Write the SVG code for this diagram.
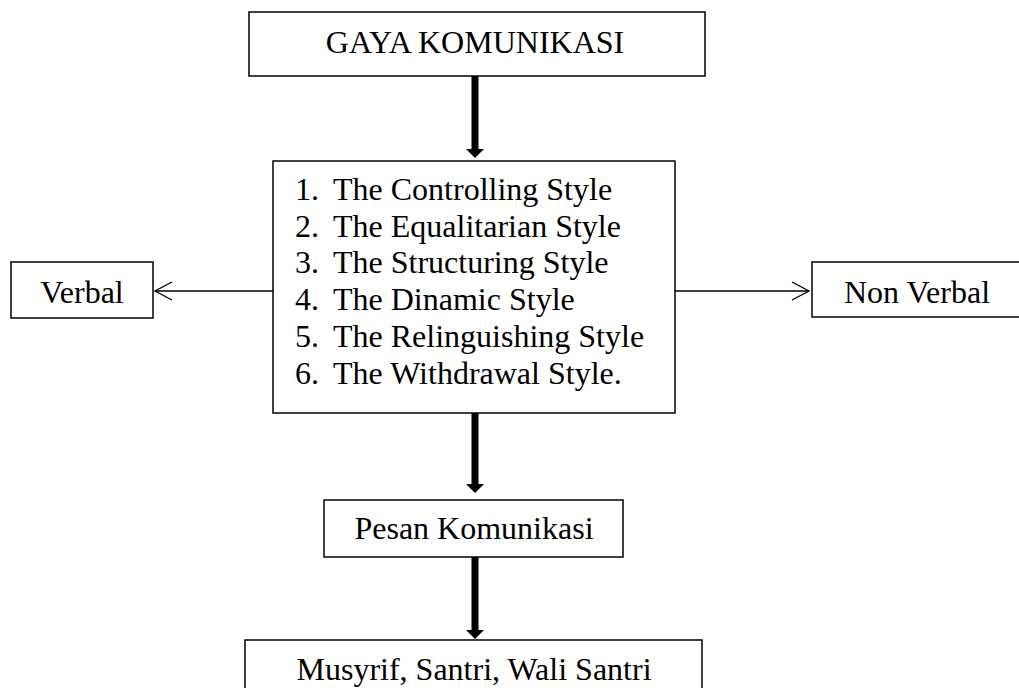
<svg xmlns="http://www.w3.org/2000/svg" width="1019" height="688" viewBox="0 0 1019 688">
<style>
.box{fill:#fff;stroke:#000;stroke-width:1.5}
.t{font-family:"Liberation Serif","Times New Roman",serif;font-size:32px;fill:#000}
.c{text-anchor:middle}
.thick{stroke:#000;stroke-width:7;fill:none}
.thin{stroke:#000;stroke-width:1.3;fill:none}
</style>
<defs>
<marker id="head" viewBox="0 0 9 18" refX="0" refY="9" markerWidth="9" markerHeight="18" markerUnits="userSpaceOnUse" orient="auto">
<path d="M0,0 L9,9 L0,18 Z" fill="#000"/>
</marker>
<marker id="open" viewBox="0 0 20 20" refX="18" refY="10" markerWidth="20" markerHeight="20" markerUnits="userSpaceOnUse" orient="auto">
<path d="M1,1 L18,10 L1,19" fill="none" stroke="#000" stroke-width="1.3"/>
</marker>
</defs>
<g id="connectors">
<line class="thick" x1="475" y1="76" x2="475" y2="149" marker-end="url(#head)"/>
<line class="thick" x1="475" y1="413" x2="475" y2="484" marker-end="url(#head)"/>
<line class="thick" x1="475" y1="557" x2="475" y2="630" marker-end="url(#head)"/>
<line class="thin" x1="273" y1="291" x2="155" y2="291" marker-end="url(#open)"/>
<line class="thin" x1="675" y1="291" x2="809" y2="291" marker-end="url(#open)"/>
</g>
<g id="gaya">
<rect class="box" x="249" y="12" width="456" height="64"/>
<text class="t c" x="475" y="53">GAYA KOMUNIKASI</text>
</g>
<g id="styles">
<rect class="box" x="273" y="161" width="402" height="252"/>
<text class="t" y="200"><tspan x="295">1.</tspan><tspan x="333">The Controlling Style</tspan></text>
<text class="t" y="236.7"><tspan x="295">2.</tspan><tspan x="333">The Equalitarian Style</tspan></text>
<text class="t" y="273.4"><tspan x="295">3.</tspan><tspan x="333">The Structuring Style</tspan></text>
<text class="t" y="310.1"><tspan x="295">4.</tspan><tspan x="333">The Dinamic Style</tspan></text>
<text class="t" y="346.8"><tspan x="295">5.</tspan><tspan x="333">The Relinguishing Style</tspan></text>
<text class="t" y="383.5"><tspan x="295">6.</tspan><tspan x="333">The Withdrawal Style.</tspan></text>
</g>
<g id="verbal">
<rect class="box" x="11" y="262" width="142" height="56"/>
<text class="t c" x="82" y="303">Verbal</text>
</g>
<g id="nonverbal">
<rect class="box" x="812" y="262" width="210" height="55"/>
<text class="t c" x="917" y="303">Non Verbal</text>
</g>
<g id="pesan">
<rect class="box" x="324" y="500" width="299" height="57"/>
<text class="t c" x="474" y="539">Pesan Komunikasi</text>
</g>
<g id="musyrif">
<rect class="box" x="245" y="640" width="457" height="60"/>
<text class="t c" x="474" y="680">Musyrif, Santri, Wali Santri</text>
</g>
</svg>
